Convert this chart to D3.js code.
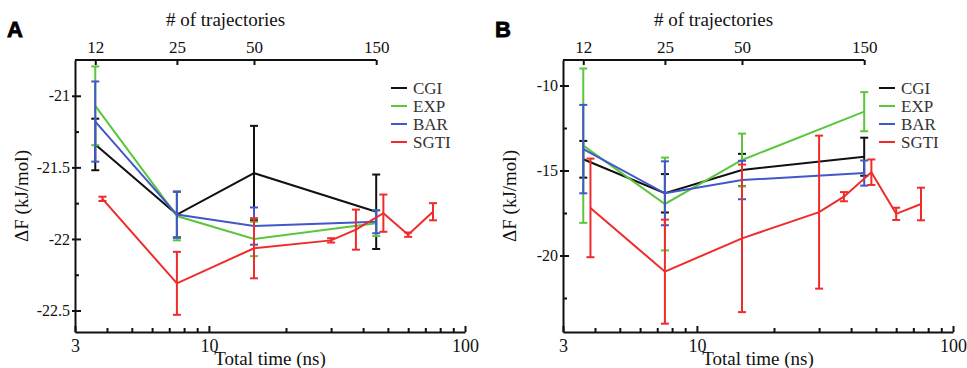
<!DOCTYPE html>
<html>
<head>
<meta charset="utf-8">
<script src="https://cdn.jsdelivr.net/npm/d3@7"></script>
<style>
  body { margin: 0; background: #fff; }
  svg { display: block; }
</style>
</head>
<body>
<svg id="chart" width="967" height="368"></svg>
<script>
// --- data ---
const trajTicks = [12, 25, 50, 150];          // # of trajectories (top axis)
const nsPerTraj = 0.3;                         // total time = trajectories * 0.3 ns
const timesMain = [3.6, 7.5, 15, 45];          // CGI / EXP / BAR
const timesSgti = [3.84, 7.5, 15, 30, 37.5, 48, 60, 75];
const seriesNames = ['CGI', 'EXP', 'BAR', 'SGTI'];
const seriesColors = ['#111111', '#5ac63c', '#4257c9', '#f02b2b'];

// panel A
const cgiA = [-21.34, -21.83, -21.54, -21.81];
const cgiErrA = [0.18, 0.16, 0.33, 0.26];
const expA = [-21.07, -21.84, -22.0, -21.89];
const expErrA = [0.275, 0.17, 0.12, 0.09];
const barA = [-21.18, -21.83, -21.91, -21.88];
const barErrA = [0.28, 0.16, 0.13, 0.08];
const sgtiA = [-21.72, -22.31, -22.065, -22.01, -21.935, -21.82, -21.97, -21.81];
const sgtiErrA = [0.015, 0.22, 0.21, 0.015, 0.14, 0.13, 0.015, 0.06];

// panel B
const cgiB = [-14.34, -16.34, -14.97, -14.19];
const cgiErrB = [1.08, 1.13, 0.95, 1.12];
const expB = [-13.54, -16.97, -14.38, -11.54];
const expErrB = [4.54, 2.73, 1.55, 1.15];
const barB = [-13.74, -16.34, -15.56, -15.15];
const barErrB = [2.6, 1.88, 1.13, 0.74];
const sgtiB = [-17.2, -20.95, -18.99, -17.45, -16.54, -15.1, -17.55, -16.97];
const sgtiErrB = [2.9, 3.06, 4.34, 4.5, 0.27, 0.75, 0.36, 0.96];

const xTickLabels = [3, 10, 100];
const xMinor = [4, 5, 6, 7, 8, 9, 20, 30, 40, 50, 60, 70, 80, 90];
const yTicksA = [-21, -21.5, -22, -22.5];
const yMinorA = [-21.25, -21.75, -22.25];
const yTicksB = [-10, -15, -20];
const yMinorB = [-12.5, -17.5, -22.5];

const SERIF = '"Liberation Serif", "Times New Roman", Times, serif';
const svg = d3.select('#chart');

function drawPanel(opt) {
    const left = opt.left, right = left + 390, top = 60, bottom = 332;
    const g = svg.append('g');

    const x = d3.scaleLog().domain([3, 100]).range([left, right]);
    const xTraj = d3.scaleLog().domain([3 / nsPerTraj, 100 / nsPerTraj]).range([left, right]);
    const y = d3.scaleLinear().domain(opt.yDomain).range([bottom, top]);

    // bottom axis
    const bx = g.append('g').attr('transform', 'translate(0,' + bottom + ')');
    bx.call(d3.axisBottom(x).tickValues(xTickLabels).tickFormat(d3.format('d'))
        .tickSizeInner(-6).tickSizeOuter(0).tickPadding(7));
    bx.append('g').call(d3.axisBottom(x).tickValues(xMinor).tickFormat('').tickSize(-4))
        .select('.domain').remove();

    // left axis
    const ly = g.append('g').attr('transform', 'translate(' + left + ',0)');
    ly.call(d3.axisLeft(y).tickValues(opt.yTicks).tickFormat(d => String(d))
        .tickSizeInner(-6).tickSizeOuter(0).tickPadding(5));
    ly.selectAll('.tick line').attr('x1', -3);
    ly.append('g').call(d3.axisLeft(y).tickValues(opt.yMinor).tickFormat('').tickSize(-4))
        .select('.domain').remove();

    // top axis (only up to 150 trajectories)
    const tx = g.append('g').attr('transform', 'translate(0,' + top + ')');
    tx.call(d3.axisTop(xTraj).tickValues(trajTicks).tickFormat(d3.format('d'))
        .tickSizeInner(-5).tickSizeOuter(0).tickPadding(7));
    tx.select('.domain').remove();
    tx.append('line')
        .attr('x1', left).attr('x2', xTraj(trajTicks[trajTicks.length - 1]))
        .attr('stroke', '#111').attr('stroke-width', 2);

    g.selectAll('.domain').attr('stroke', '#111').attr('stroke-width', 2);
    g.selectAll('.tick line').attr('stroke', '#111').attr('stroke-width', 2);
    g.selectAll('.tick text').style('font-family', SERIF).attr('fill', '#111');
    bx.selectAll('.tick text').style('font-size', '18px');
    ly.selectAll('.tick text').style('font-size', '16px');
    tx.selectAll('.tick text').style('font-size', '17px');

    // axis titles
    g.append('text').text('# of trajectories')
        .attr('x', (left + xTraj(150)) / 2).attr('y', 26)
        .attr('text-anchor', 'middle');
    g.append('text').text('Total time (ns)')
        .attr('x', (left + right) / 2).attr('y', 365)
        .attr('text-anchor', 'middle');
    g.append('text').text('ΔF (kJ/mol)')
        .attr('transform', 'translate(' + (left - 47) + ',' + ((top + bottom) / 2) + ') rotate(-90)')
        .attr('text-anchor', 'middle');
    g.selectAll(':scope > text').style('font-family', SERIF).style('font-size', '19px').attr('fill', '#111');

    // panel letter
    g.append('text').text(opt.letter)
        .attr('x', left - 68).attr('y', 37)
        .style('font-family', '"Liberation Sans", Arial, sans-serif')
        .style('font-weight', 'bold').style('font-size', '22px').attr('fill', '#000')
        .attr('stroke', '#000').attr('stroke-width', 0.8);

    // series
    const line = d3.line().x(d => x(d.t)).y(d => y(d.v));
    opt.series.forEach((s, i) => {
        const pts = s.times.map((t, j) => ({ t: t, v: s.values[j], e: s.errs[j] }));
        const sg = g.append('g').attr('stroke', seriesColors[i]).attr('stroke-width', 2).attr('fill', 'none');
        sg.append('path').attr('d', line(pts));
        pts.forEach(p => {
            const cx = x(p.t);
            sg.append('line').attr('x1', cx).attr('x2', cx).attr('y1', y(p.v - p.e)).attr('y2', y(p.v + p.e));
            [p.v - p.e, p.v + p.e].forEach(v => {
                sg.append('line').attr('x1', cx - 4).attr('x2', cx + 4).attr('y1', y(v)).attr('y2', y(v));
            });
        });
    });

    // legend
    seriesNames.forEach((name, i) => {
        const ry = 88 + i * 18;
        g.append('line').attr('x1', opt.legendX).attr('x2', opt.legendX + 16)
            .attr('y1', ry).attr('y2', ry)
            .attr('stroke', seriesColors[i]).attr('stroke-width', 2);
        g.append('text').text(name).attr('x', opt.legendX + 22).attr('y', ry + 6)
            .style('font-family', SERIF).style('font-size', '17px').attr('fill', '#333');
    });
}

drawPanel({
    letter: 'A', left: 75, legendX: 391,
    yDomain: [-22.65, -20.75], yTicks: yTicksA, yMinor: yMinorA,
    series: [
        { times: timesMain, values: cgiA, errs: cgiErrA },
        { times: timesMain, values: expA, errs: expErrA },
        { times: timesMain, values: barA, errs: barErrA },
        { times: timesSgti, values: sgtiA, errs: sgtiErrA }
    ]
});

drawPanel({
    letter: 'B', left: 563, legendX: 879,
    yDomain: [-24.5, -8.5], yTicks: yTicksB, yMinor: yMinorB,
    series: [
        { times: timesMain, values: cgiB, errs: cgiErrB },
        { times: timesMain, values: expB, errs: expErrB },
        { times: timesMain, values: barB, errs: barErrB },
        { times: timesSgti, values: sgtiB, errs: sgtiErrB }
    ]
});
</script>
</body>
</html>
